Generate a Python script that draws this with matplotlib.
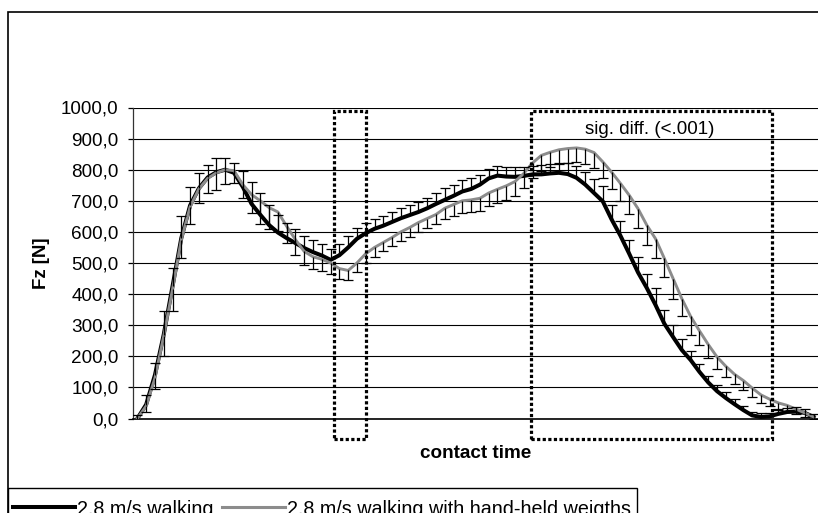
import matplotlib
matplotlib.use('Agg')
import matplotlib.pyplot as plt
from matplotlib.patches import Rectangle
from matplotlib.lines import Line2D
import numpy as np

plt.rcParams['font.family'] = ['Liberation Sans', 'DejaVu Sans']

# ---- data ----
walking = [0, 45, 140, 270, 425, 580, 685, 740, 775, 792, 800, 790, 745, 690, 655, 622,
           598, 580, 564, 548, 535, 524, 510, 525, 550, 578, 596, 610, 620, 632, 644, 654,
           664, 676, 690, 703, 716, 730, 738, 752, 772, 781, 778, 777, 780, 785, 785, 788,
           790, 786, 774, 752, 725, 698, 640, 588, 530, 470, 420, 365, 305, 262, 220, 188,
           150, 116, 88, 66, 46, 27, 10, 5, 7, 15, 21, 22, 18, 5]
weights = [0, 40, 130, 265, 415, 575, 680, 738, 772, 790, 800, 797, 752, 720, 700, 678,
           664, 618, 575, 537, 520, 512, 500, 482, 476, 500, 530, 550, 566, 582, 600, 614,
           630, 643, 656, 676, 688, 700, 703, 708, 725, 737, 748, 762, 788, 822, 846, 856,
           864, 868, 870, 866, 855, 825, 792, 756, 718, 675, 622, 578, 515, 450, 385, 328,
           282, 238, 198, 168, 142, 122, 98, 76, 62, 50, 42, 30, 18, 5]
walking_err_plus = [10, 32, 40, 75, 60, 70, 60, 50, 40, 45, 38, 30, 50, 70, 70, 65,
                    55, 50, 45, 40, 38, 38, 36, 36, 38, 34, 32, 30, 32, 32, 34, 32,
                    32, 34, 36, 38, 36, 36, 34, 32, 30, 30, 32, 32, 30, 28, 30, 30,
                    32, 34, 38, 42, 45, 48, 46, 48, 45, 48, 46, 54, 45, 40, 36, 30,
                    26, 22, 20, 18, 16, 14, 12, 12, 12, 12, 14, 14, 14, 10]
weights_err_minus = [5, 20, 35, 65, 70, 60, 55, 45, 48, 55, 45, 40, 42, 60, 75, 70,
                     60, 55, 50, 45, 40, 38, 35, 32, 30, 30, 30, 30, 28, 28, 30, 30,
                     30, 30, 32, 34, 36, 38, 40, 42, 42, 44, 44, 46, 48, 50, 50, 48,
                     46, 45, 45, 48, 50, 52, 55, 58, 60, 62, 64, 62, 60, 66, 56, 60,
                     45, 42, 38, 35, 32, 30, 28, 25, 22, 20, 18, 15, 12, 8]
yticks = list(range(0, 1001, 100))
ytick_labels = [f"{v},0" for v in yticks]
series_names = ["2.8 m/s walking", "2.8 m/s walking with hand-held weigths"]
annotation = "sig. diff. (<.001)"

W, H = 818, 513
fig = plt.figure(figsize=(W / 100, H / 100), dpi=100)
ax_left, ax_right, ax_bottom, ax_top = 133, 818, 418.5, 107.5
ax = fig.add_axes([ax_left / W, 1 - ax_bottom / H, (ax_right - ax_left) / W,
                   (ax_bottom - ax_top) / H])

n = len(walking)
x = np.arange(n)

ax.plot(x, walking, color='black', lw=2.9, zorder=3, solid_joinstyle='round')
ax.plot(x, weights, color='#8c8c8c', lw=2.1, zorder=3.5, solid_joinstyle='round')

for vals, err in [(walking, [np.zeros(n), walking_err_plus]),
                  (weights, [weights_err_minus, np.zeros(n)])]:
    eb = ax.errorbar(x, vals, yerr=err, fmt='none', ecolor='black', elinewidth=0.9,
                     capsize=3.6, capthick=0.9, zorder=5)
    for cl in eb[1]:
        if np.allclose(cl.get_ydata(), vals):
            cl.set_visible(False)

ax.set_xlim(-0.5, n - 0.5)
ax.set_ylim(0, 1000)
ax.set_xticks([])
ax.set_yticks(yticks)
ax.set_yticklabels(ytick_labels, fontsize=13.6)
ax.tick_params(axis='y', direction='out', length=3.6, width=0.9, pad=7, colors='black')
ax.yaxis.grid(True, color='black', lw=0.8)
ax.set_axisbelow(True)
for s in ['top', 'right']:
    ax.spines[s].set_visible(False)
ax.spines['left'].set_color('#333333')
ax.spines['left'].set_linewidth(0.9)
ax.spines['bottom'].set_color('black')
ax.spines['bottom'].set_linewidth(1.2)

ax.set_ylabel('Fz [N]', fontsize=13.4, fontweight='bold')
ax.yaxis.set_label_coords((50 - ax_left) / (ax_right - ax_left), 0.5)
ax.set_xlabel('contact time', fontsize=13.6, fontweight='bold')
ax.xaxis.set_label_coords(0.5, -(445 - ax_bottom) / (ax_bottom - ax_top))

# significance boxes (dotted)
px = lambda p: (p - (ax_left + (ax_right - ax_left) / n / 2)) / ((ax_right - ax_left) / n)
py = lambda p: (ax_bottom - p) / (ax_bottom - ax_top) * 1000
for (l, r) in [(334, 366), (531, 772)]:
    ax.add_patch(Rectangle((px(l), py(439)), px(r) - px(l), py(111) - py(439),
                           fill=False, ec='black', lw=2.3, ls=(0, (1.0, 0.75)),
                           clip_on=False, zorder=6))
ax.text(px(650), py(130), annotation, fontsize=13.5, ha='center', va='center', zorder=7)

# outer chart frame
fig.add_artist(Rectangle((8 / W, -0.2), 1.2, 1 - 12 / H + 0.2, transform=fig.transFigure,
                         fill=False, ec='black', lw=1.2))
# legend frame
fig.add_artist(Rectangle((8 / W, -0.2), (637 - 8) / W, 0.2 + 1 - 488 / H,
                         transform=fig.transFigure, fill=False, ec='black', lw=1.0))

handles = [Line2D([], [], color='black', lw=2.9),
           Line2D([], [], color='#8c8c8c', lw=2.2)]
leg = fig.legend(handles, series_names, loc='upper left', ncol=2,
                 bbox_to_anchor=(13 / W, 1 - 499 / H), bbox_transform=fig.transFigure,
                 borderaxespad=0, frameon=False, fontsize=14.2, borderpad=0,
                 handlelength=3.15, handleheight=1.1, handletextpad=0.1,
                 columnspacing=0.45)

fig.savefig('out.png', dpi=100)
